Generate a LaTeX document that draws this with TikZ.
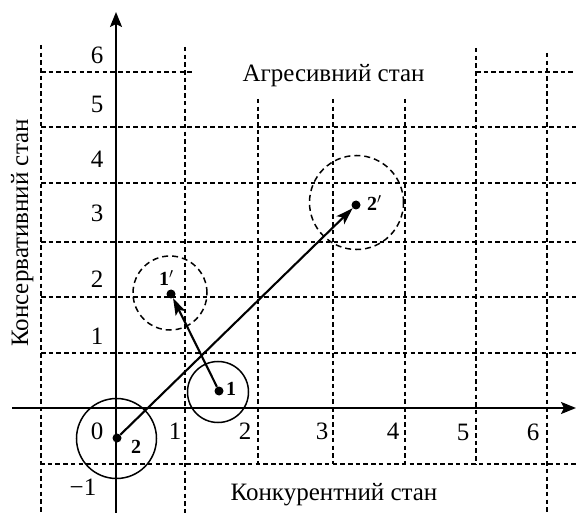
\documentclass[tikz,border=0pt]{standalone}
\usepackage{fontspec}
\setmainfont{Liberation Serif}
\usetikzlibrary{arrows.meta}
\begin{document}
\begin{tikzpicture}[x=1pt,y=-1pt,
  gridline/.style={dash pattern=on 4.5pt off 3.2pt, line width=1.1pt},
  axis/.style={line width=2.2pt,-{Stealth[length=15pt,width=12pt,inset=3pt]}},
  lab/.style={inner sep=0pt,font=\fontsize{25}{30}\selectfont},
  ptlab/.style={inner sep=0pt,font=\fontsize{20}{24}\selectfont\bfseries},
  dot/.style={circle,fill,inner sep=0pt,minimum size=9pt},
  state/.style={circle,draw,line width=1.5pt,inner sep=0pt},
  future/.style={state,dash pattern=on 6pt off 4pt},
  move/.style={line width=2.1pt,-{Stealth[length=17pt,width=11pt,inset=4pt]}}]
\useasboundingbox (0,0) rectangle (576,513);
% grid
\draw[gridline] (41,45) -- (41,513);
\draw[gridline] (185,47) -- (185,513);
\draw[gridline] (258,99) -- (258,464);
\draw[gridline] (333,99) -- (333,464);
\draw[gridline] (405,99) -- (405,464);
\draw[gridline] (476,48) -- (476,464);
\draw[gridline] (547,53) -- (547,513);
\draw[gridline] (41,72) -- (193,72);
\draw[gridline] (476,72) -- (576,72);
\foreach \yy in {127,183,242,297,353} \draw[gridline] (41,\yy) -- (576,\yy);
\draw[gridline] (40,464) -- (576,464);
% axes
\coordinate (yb) at (116,513);
\coordinate (yt) at (116,12);
\coordinate (xl) at (12,408);
\coordinate (xr) at (576,408);
\draw[axis] (yb) -- (yt);
\draw[axis] (xl) -- (xr);
% tick labels
\node[lab] (y6) at (97,55) {6};
\node[lab] (y5) at (97,104) {5};
\node[lab] (y4) at (97,159) {4};
\node[lab] (y3) at (97,213) {3};
\node[lab] (y2) at (97,279) {2};
\node[lab] (y1) at (97,336) {1};
\node[lab] (y0) at (97,431) {0};
\node[lab] (ym1) at (83,487) {−1};
\node[lab] (x1) at (175,431) {1};
\node[lab] (x2) at (245,431) {2};
\node[lab] (x3) at (322,431) {3};
\node[lab] (x4) at (393,431) {4};
\node[lab] (x5) at (463,432) {5};
\node[lab] (x6) at (533,432) {6};
% state labels
\node[lab,anchor=base] (agr) at (333.5,82) {Агресивний стан};
\node[lab,anchor=base] (kon) at (334,500) {Конкурентний стан};
\node[lab,anchor=base,rotate=90] (kons) at (28,233) {Консервативний стан};
% circles
\node[state,minimum size=80pt] (c2) at (116.5,438.5) {};
\node[state,minimum size=61pt] (c1) at (218,392) {};
\node[future,minimum size=74pt] (c1p) at (170,293) {};
\node[future,minimum size=94pt] (c2p) at (356.5,202.5) {};
% points
\node[dot] (p2) at (117,438) {};
\node[dot] (p1) at (219,391) {};
\node[dot] (p1p) at (171,294) {};
\node[dot] (p2p) at (356,205) {};
\node[ptlab] (l2) at (136,447) {2};
\node[ptlab] (l1) at (231,389) {1};
\node[ptlab] (l1p) at (164,278) {1\rlap{$'$}};
\node[ptlab] (l2p) at (372,203) {2\rlap{$'$}};
% moves
\draw[move] (p1) -- (p1p);
\draw[move] (p2) -- (p2p);
\end{tikzpicture}
\end{document}
